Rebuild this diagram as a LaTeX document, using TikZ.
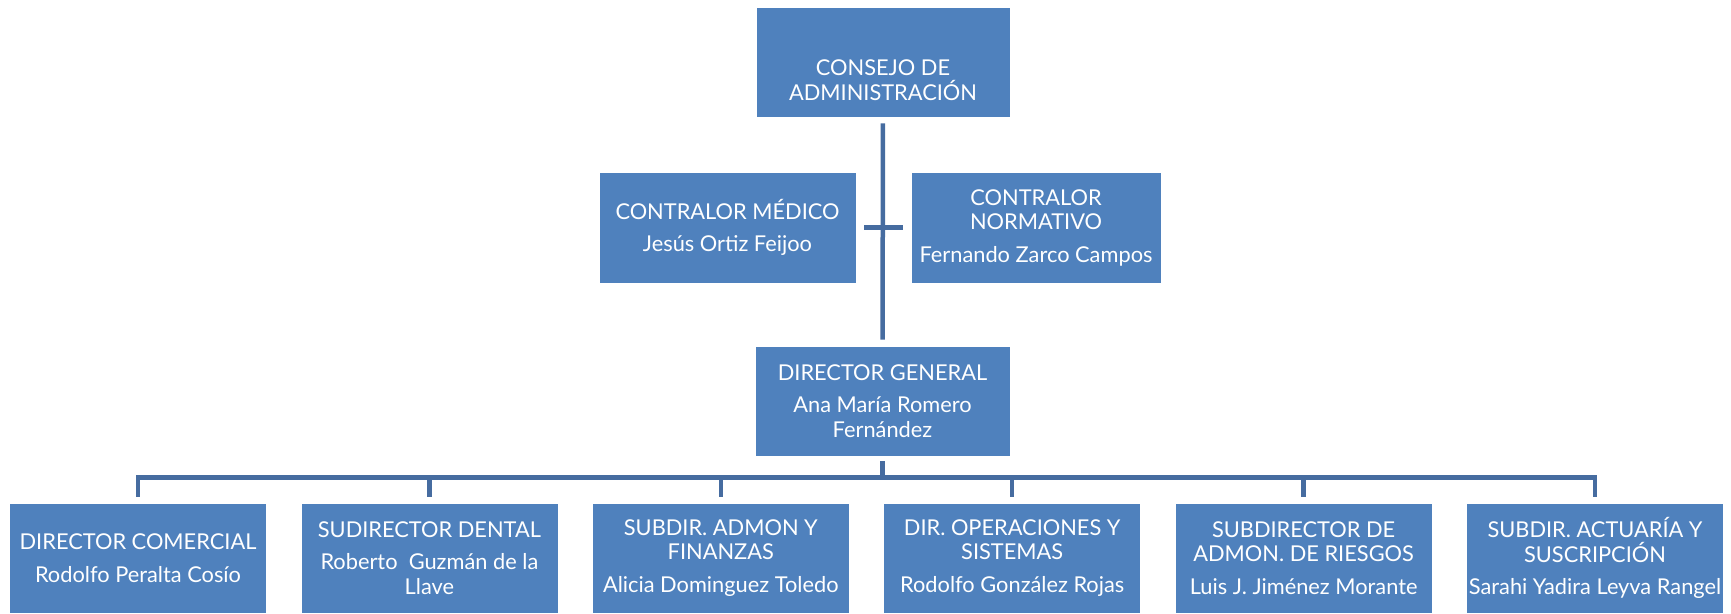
\documentclass[tikz,border=0pt]{standalone}
\usepackage{fontspec}
\setmainfont{Lato}
\usetikzlibrary{calc}
\definecolor{boxblue}{RGB}{79,129,189}
\definecolor{linkblue}{RGB}{70,108,160}
\begin{document}
\begin{tikzpicture}[x=1pt,y=1pt,
  orgbox/.style={fill=boxblue, draw=white, line width=0.8pt, text=white, align=center, inner sep=0pt, font=\fontsize{21.8}{24.5}\selectfont},
  boxtext/.style={text=white, align=center, inner sep=0pt, font=\fontsize{21.8}{24.5}\selectfont},
  lowbox/.style={orgbox, minimum width=257pt, minimum height=110pt},
  conn/.style={draw=linkblue, line width=4.5pt},
]
\useasboundingbox (0,0) rectangle (1731,613);
\node[orgbox, minimum width=254pt, minimum height=110pt,
  label={[boxtext, yshift=-18pt]center:{CONSEJO DE\\ADMINISTRACIÓN}}] (top) at (883,551) {};
\node[orgbox, minimum width=257pt, minimum height=111pt] (cm) at (727.5,385.5)
  {CONTRALOR MÉDICO\\[8pt]Jesús Ortiz Feijoo};
\node[orgbox, minimum width=250pt, minimum height=111pt] (cn) at (1036,385.5)
  {CONTRALOR\\NORMATIVO\\[8pt]Fernando Zarco Campos};
\node[orgbox, minimum width=255pt, minimum height=110pt] (dg) at (882.5,212)
  {DIRECTOR GENERAL\\[8pt]Ana María Romero\\Fernández};
\node[lowbox] (b1) at (138,55) {DIRECTOR COMERCIAL\\[8pt]Rodolfo Peralta Cosío};
\node[lowbox] (b2) at (429.4,55) {SUDIRECTOR DENTAL\\[8pt]Roberto\ \ Guzmán de la\\Llave};
\node[lowbox] (b3) at (720.8,55) {SUBDIR. ADMON Y\\FINANZAS\\[8pt]Alicia Dominguez Toledo};
\node[lowbox] (b4) at (1012.2,55) {DIR. OPERACIONES Y\\SISTEMAS\\[8pt]Rodolfo González Rojas};
\node[lowbox] (b5) at (1303.6,55) {SUBDIRECTOR DE\\ADMON. DE RIESGOS\\[8pt]Luis J. Jiménez Morante};
\node[lowbox] (b6) at (1595,55) {SUBDIR. ACTUARÍA Y\\SUSCRIPCIÓN\\[8pt]Sarahi Yadira Leyva Rangel};
\draw[conn, shorten <=6pt, shorten >=6pt] (top.south) -- (dg.north);
\draw[conn, shorten <=8pt, shorten >=8pt] (cm.east) -- (cn.west);
\coordinate (bar) at ($(dg.south)+(0,-21)$);
\draw[conn, shorten <=5pt] (dg.south) -- (bar);
\foreach \i in {1,...,6} {
  \draw[conn, shorten >=6pt] (bar) -| (b\i.north);
}
\end{tikzpicture}
\end{document}
